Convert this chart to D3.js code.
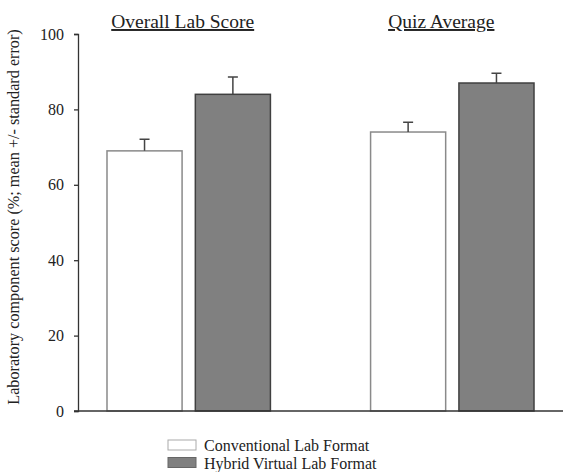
<!DOCTYPE html>
<html><head><meta charset="utf-8">
<script src="https://cdn.jsdelivr.net/npm/d3@7"></script>
<style>body{margin:0;background:#fff}svg{display:block}
svg text{font-family:"Liberation Serif";}</style>
</head><body>
<svg id="c" width="563" height="472"></svg>
<script>
const groups = ["Overall Lab Score", "Quiz Average"];
const series = ["Conventional Lab Format", "Hybrid Virtual Lab Format"];
const conventional = [69, 74];
const conventionalErr = [3.1, 2.6];
const hybrid = [84, 87];
const hybridErr = [4.6, 2.6];
const yTicks = [0, 20, 40, 60, 80, 100];
const yLabel = "Laboratory component score (%; mean +/- standard error)";

const fills = ["#ffffff", "#808080"];
const strokes = ["#8a8a8a", "#404040"];
const font = '"Liberation Serif"';

const svg = d3.select("#c");
const y = d3.scaleLinear().domain([0, 100]).range([411, 34]);
const x0 = d3.scaleBand().domain(groups).range([78, 563]).paddingInner(0.38).paddingOuter(0.11);
const x1 = d3.scaleBand().domain(series).range([0, x0.bandwidth()]).paddingInner(0.15).paddingOuter(0);

const data = groups.map((g, i) => ({
  group: g,
  vals: [
    {s: series[0], v: conventional[i], e: conventionalErr[i], k: 0},
    {s: series[1], v: hybrid[i], e: hybridErr[i], k: 1}
  ]
}));

// bars
const gG = svg.selectAll("g.grp").data(data).enter().append("g")
  .attr("transform", d => `translate(${x0(d.group)},0)`);
gG.selectAll("rect").data(d => d.vals).enter().append("rect")
  .attr("x", d => x1(d.s)).attr("width", x1.bandwidth())
  .attr("y", d => y(d.v)).attr("height", d => y(0) - y(d.v))
  .attr("fill", d => fills[d.k]).attr("stroke", d => strokes[d.k]).attr("stroke-width", 1.5);
// error bars
gG.selectAll("path.err").data(d => d.vals).enter().append("path")
  .attr("class", "err")
  .attr("d", d => {
    const cx = x1(d.s) + x1.bandwidth() / 2;
    return `M${cx},${y(d.v)}V${y(d.v + d.e)}M${cx - 5},${y(d.v + d.e)}H${cx + 5}`;
  })
  .attr("stroke", "#444").attr("stroke-width", 1.5).attr("fill", "none");

// group titles
svg.selectAll("text.title").data(groups).enter().append("text")
  .attr("x", (d, i) => x0(d) + x0.bandwidth() / 2 + (i === 0 ? -6 : -11))
  .attr("y", 28).attr("text-anchor", "middle")
  .style("font-family", font).style("font-size", "19.5px").attr("fill", "#222")
  .style("text-decoration", "underline")
  .text(d => d);

// y axis
const ya = svg.append("g").attr("transform", "translate(78,0)")
  .call(d3.axisLeft(y).tickValues(yTicks).tickSize(4).tickPadding(10));
ya.attr("font-family", null);
ya.select(".domain").attr("stroke", "#333").attr("stroke-width", 1.3);
ya.selectAll(".tick line").attr("stroke", "#333").attr("stroke-width", 1.3);
ya.selectAll("text").style("font-family", font).style("font-size", "16px").attr("fill", "#222");

// x axis line
svg.append("line").attr("x1", 74).attr("x2", 563).attr("y1", y(0)).attr("y2", y(0))
  .attr("stroke", "#333").attr("stroke-width", 1.3);

// y label
svg.append("text").attr("transform", `translate(19,217) rotate(-90)`)
  .attr("text-anchor", "middle").style("font-family", font).style("font-size", "16.2px").attr("fill", "#222")
  .text(yLabel);

// legend
const lg = svg.append("g").attr("transform", "translate(168,440)");
series.forEach((s, i) => {
  lg.append("rect").attr("x", 0).attr("y", i * 17.5).attr("width", 28).attr("height", 10)
    .attr("fill", fills[i]).attr("stroke", i === 0 ? "#aaa" : "#666").attr("stroke-width", 1);
  lg.append("text").attr("x", 36).attr("y", i * 17.5 + 11)
    .style("font-family", font).style("font-size", "16px").attr("fill", "#222").text(s);
});
</script>
</body></html>
